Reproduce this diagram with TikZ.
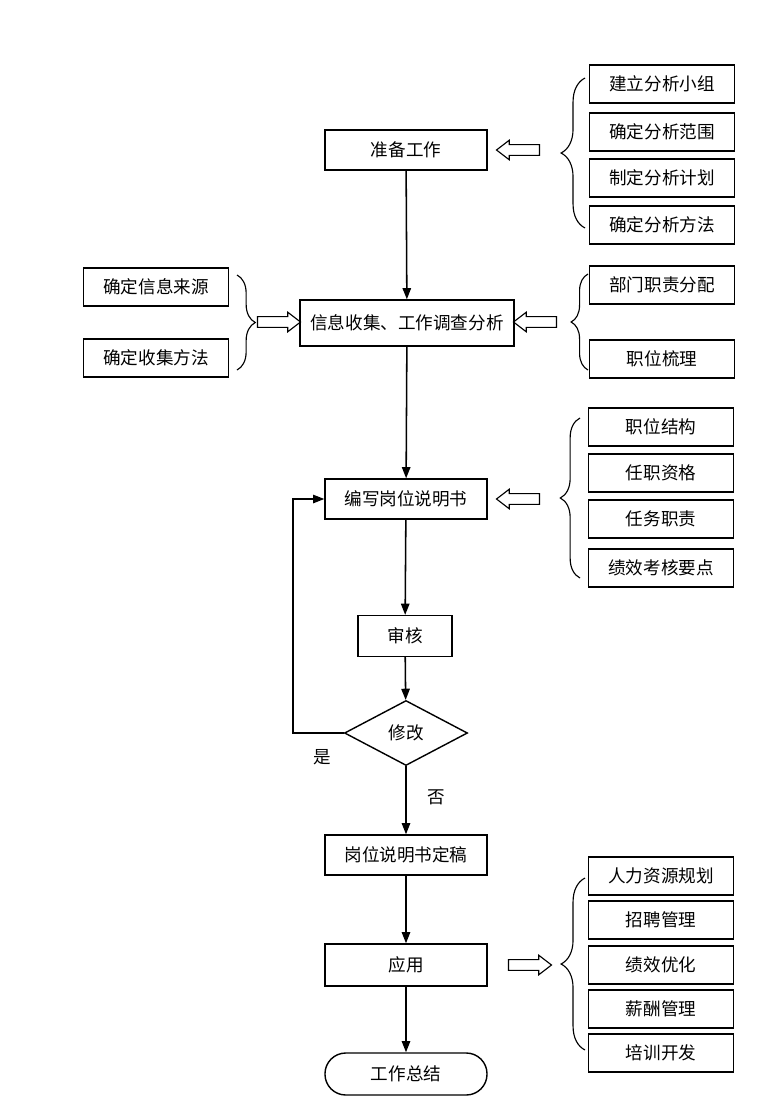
\documentclass[tikz,border=0pt]{standalone}
\usepackage{fontspec}
\setmainfont{Noto Sans CJK SC}
\usetikzlibrary{arrows.meta,shapes.geometric,shapes.arrows,decorations.pathreplacing}

\begin{document}
\begin{tikzpicture}[x=0.025cm,y=-0.025cm,
  font=\fontsize{12.5}{14}\selectfont,
  box/.style={draw,line width=1pt,minimum width=4.05cm,minimum height=1cm,inner sep=2pt},
  sub/.style={draw,line width=1pt,minimum width=3.63cm,minimum height=0.95cm,inner sep=2pt},
  hollow/.style={single arrow,draw,line width=0.8pt,inner sep=0.12cm,minimum width=0pt,
    minimum height=1.075cm,single arrow head extend=0.11cm,single arrow tip angle=75},
  curly/.style={decorate,decoration={brace,amplitude=#1},line width=0.8pt},
  flow/.style={-{Triangle[length=8pt,width=6pt]},line width=1.1pt}]
\useasboundingbox (0,0) rectangle (766,1106);

\node[box] (prep) at (406,150) {准备工作};
\node[box,minimum width=5.35cm,minimum height=1.15cm] (info) at (407,323) {信息收集、工作调查分析};
\node[box] (write) at (406,499) {编写岗位说明书};
\node[box,minimum width=2.35cm,minimum height=1.02cm] (review) at (405,636) {审核};
\node[draw,diamond,line width=1pt,minimum width=3.075cm,minimum height=1.625cm,inner sep=0pt] (mod) at (406,733) {修改};
\node[box] (final) at (406,855) {岗位说明书定稿};
\node[box,minimum height=1.05cm] (apply) at (406,965) {应用};
\node[box,minimum height=1.05cm,rounded corners=0.52cm] (sum) at (406,1074) {工作总结};

\node[sub] (g1a) at (662,84) {建立分析小组};
\node[sub] (g1b) at (662,132) {确定分析范围};
\node[sub] (g1c) at (662,178) {制定分析计划};
\node[sub] (g1d) at (662,225) {确定分析方法};

\node[sub] (s1) at (156,287) {确定信息来源};
\node[sub] (s2) at (156,358) {确定收集方法};
\node[sub] (g2a) at (662,285) {部门职责分配};
\node[sub] (g2b) at (662,359) {职位梳理};

\node[sub] (g3a) at (661,427) {职位结构};
\node[sub] (g3b) at (661,473) {任职资格};
\node[sub] (g3c) at (661,519) {任务职责};
\node[sub] (g3d) at (661,568) {绩效考核要点};

\node[sub] (g5a) at (661,876) {人力资源规划};
\node[sub] (g5b) at (661,920) {招聘管理};
\node[sub] (g5c) at (661,965) {绩效优化};
\node[sub] (g5d) at (661,1009) {薪酬管理};
\node[sub] (g5e) at (661,1053) {培训开发};

\draw[curly=17pt] (585,228) -- (585,78);
\draw[curly=13pt] (237,275) -- (237,370);
\draw[curly=12pt] (588,370) -- (588,274);
\draw[curly=14pt] (580,578) -- (580,418);
\draw[curly=17pt] (585,1050) -- (585,878);

\node[hollow,shape border rotate=180] (h1) at (521.5,150) {};
\node[hollow] (h2) at (275.5,322) {};
\node[hollow,shape border rotate=180] (h3) at (538.5,322) {};
\node[hollow,shape border rotate=180] (h4) at (521.5,499) {};
\node[hollow] (h5) at (526.5,965) {};

\draw[flow] (prep) -- (info);
\draw[flow] (info) -- (write);
\draw[flow] (write) -- (review);
\draw[flow] (review) -- (mod);
\draw[flow] (mod) -- (final);
\draw[flow] (final) -- (apply);
\draw[flow] (apply) -- (sum);
\coordinate (back) at (293,733);
\draw[flow] (mod.west) -- (back) |- (write.west);

\node (yes) at (322,757) {是};
\node (no) at (436,797) {否};
\end{tikzpicture}
\end{document}
